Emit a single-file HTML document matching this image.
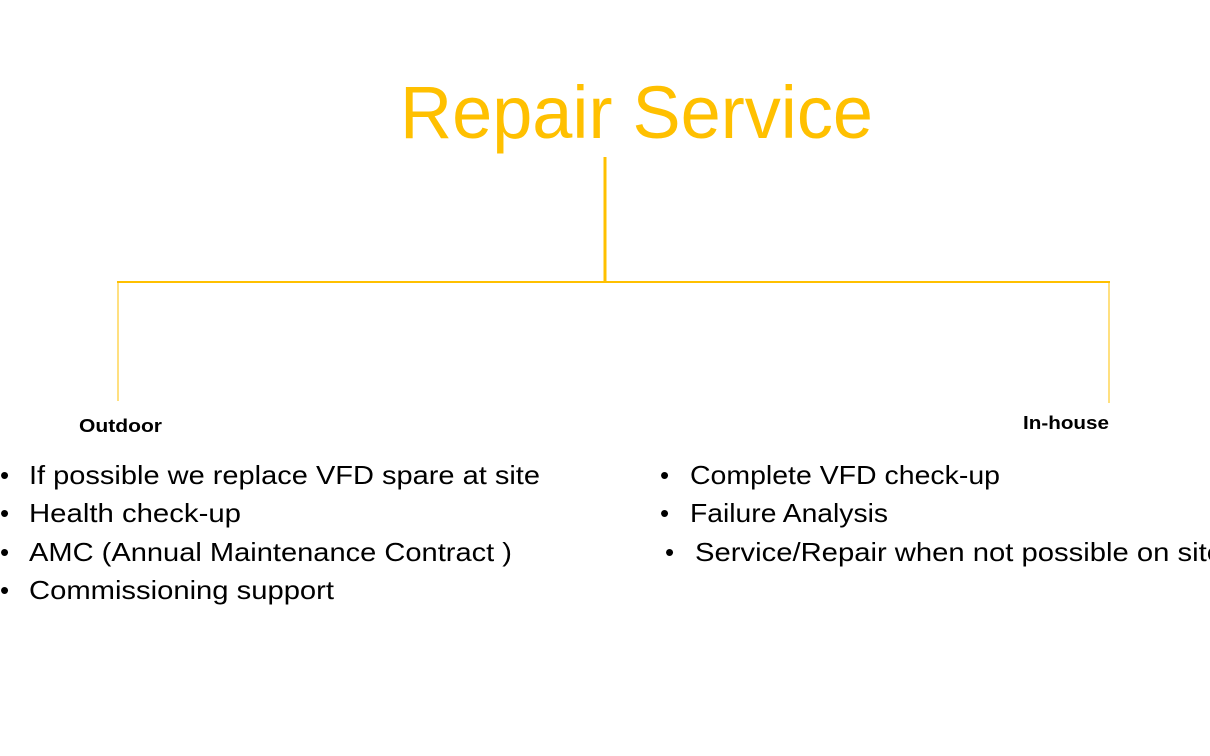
<!DOCTYPE html>
<html><head><meta charset="utf-8"><style>
html,body{margin:0;padding:0;background:#fff;}
svg{display:block;}
text{font-family:"Liberation Sans",sans-serif;}
</style></head><body>
<svg width="1210" height="756" viewBox="0 0 1210 756" xmlns="http://www.w3.org/2000/svg">
<text x="400" y="138" font-size="74" fill="#FFC000" textLength="473" lengthAdjust="spacingAndGlyphs">Repair Service</text>
<line x1="605" y1="157" x2="605" y2="282" stroke="#FFC000" stroke-width="3"/>
<line x1="117" y1="282" x2="1110" y2="282" stroke="#FFC000" stroke-width="2"/>
<line x1="118" y1="282" x2="118" y2="401" stroke="#FFC000" stroke-width="1"/>
<line x1="1109" y1="282" x2="1109" y2="403" stroke="#FFC000" stroke-width="1"/>
<text x="79" y="432" font-size="18" font-weight="bold" fill="#000" textLength="83" lengthAdjust="spacingAndGlyphs">Outdoor</text>
<text x="1023" y="429" font-size="18" font-weight="bold" fill="#000" textLength="86" lengthAdjust="spacingAndGlyphs">In-house</text>
<g font-size="26" fill="#000">
<text x="0" y="484">•</text>
<text x="29" y="484" textLength="511" lengthAdjust="spacingAndGlyphs">If possible we replace VFD  spare at site</text>
<text x="0" y="522">•</text>
<text x="29" y="522" textLength="212" lengthAdjust="spacingAndGlyphs">Health check-up</text>
<text x="0" y="561">•</text>
<text x="29" y="561" textLength="483" lengthAdjust="spacingAndGlyphs">AMC (Annual Maintenance Contract )</text>
<text x="0" y="599">•</text>
<text x="29" y="599" textLength="305" lengthAdjust="spacingAndGlyphs">Commissioning support</text>
<text x="660" y="484">•</text>
<text x="690" y="484" textLength="310" lengthAdjust="spacingAndGlyphs">Complete VFD check-up</text>
<text x="660" y="522">•</text>
<text x="690" y="522" textLength="198" lengthAdjust="spacingAndGlyphs">Failure Analysis</text>
<text x="665" y="561">•</text>
<text x="695" y="561" textLength="528" lengthAdjust="spacingAndGlyphs">Service/Repair when not possible on site</text>
</g>
</svg>
</body></html>
